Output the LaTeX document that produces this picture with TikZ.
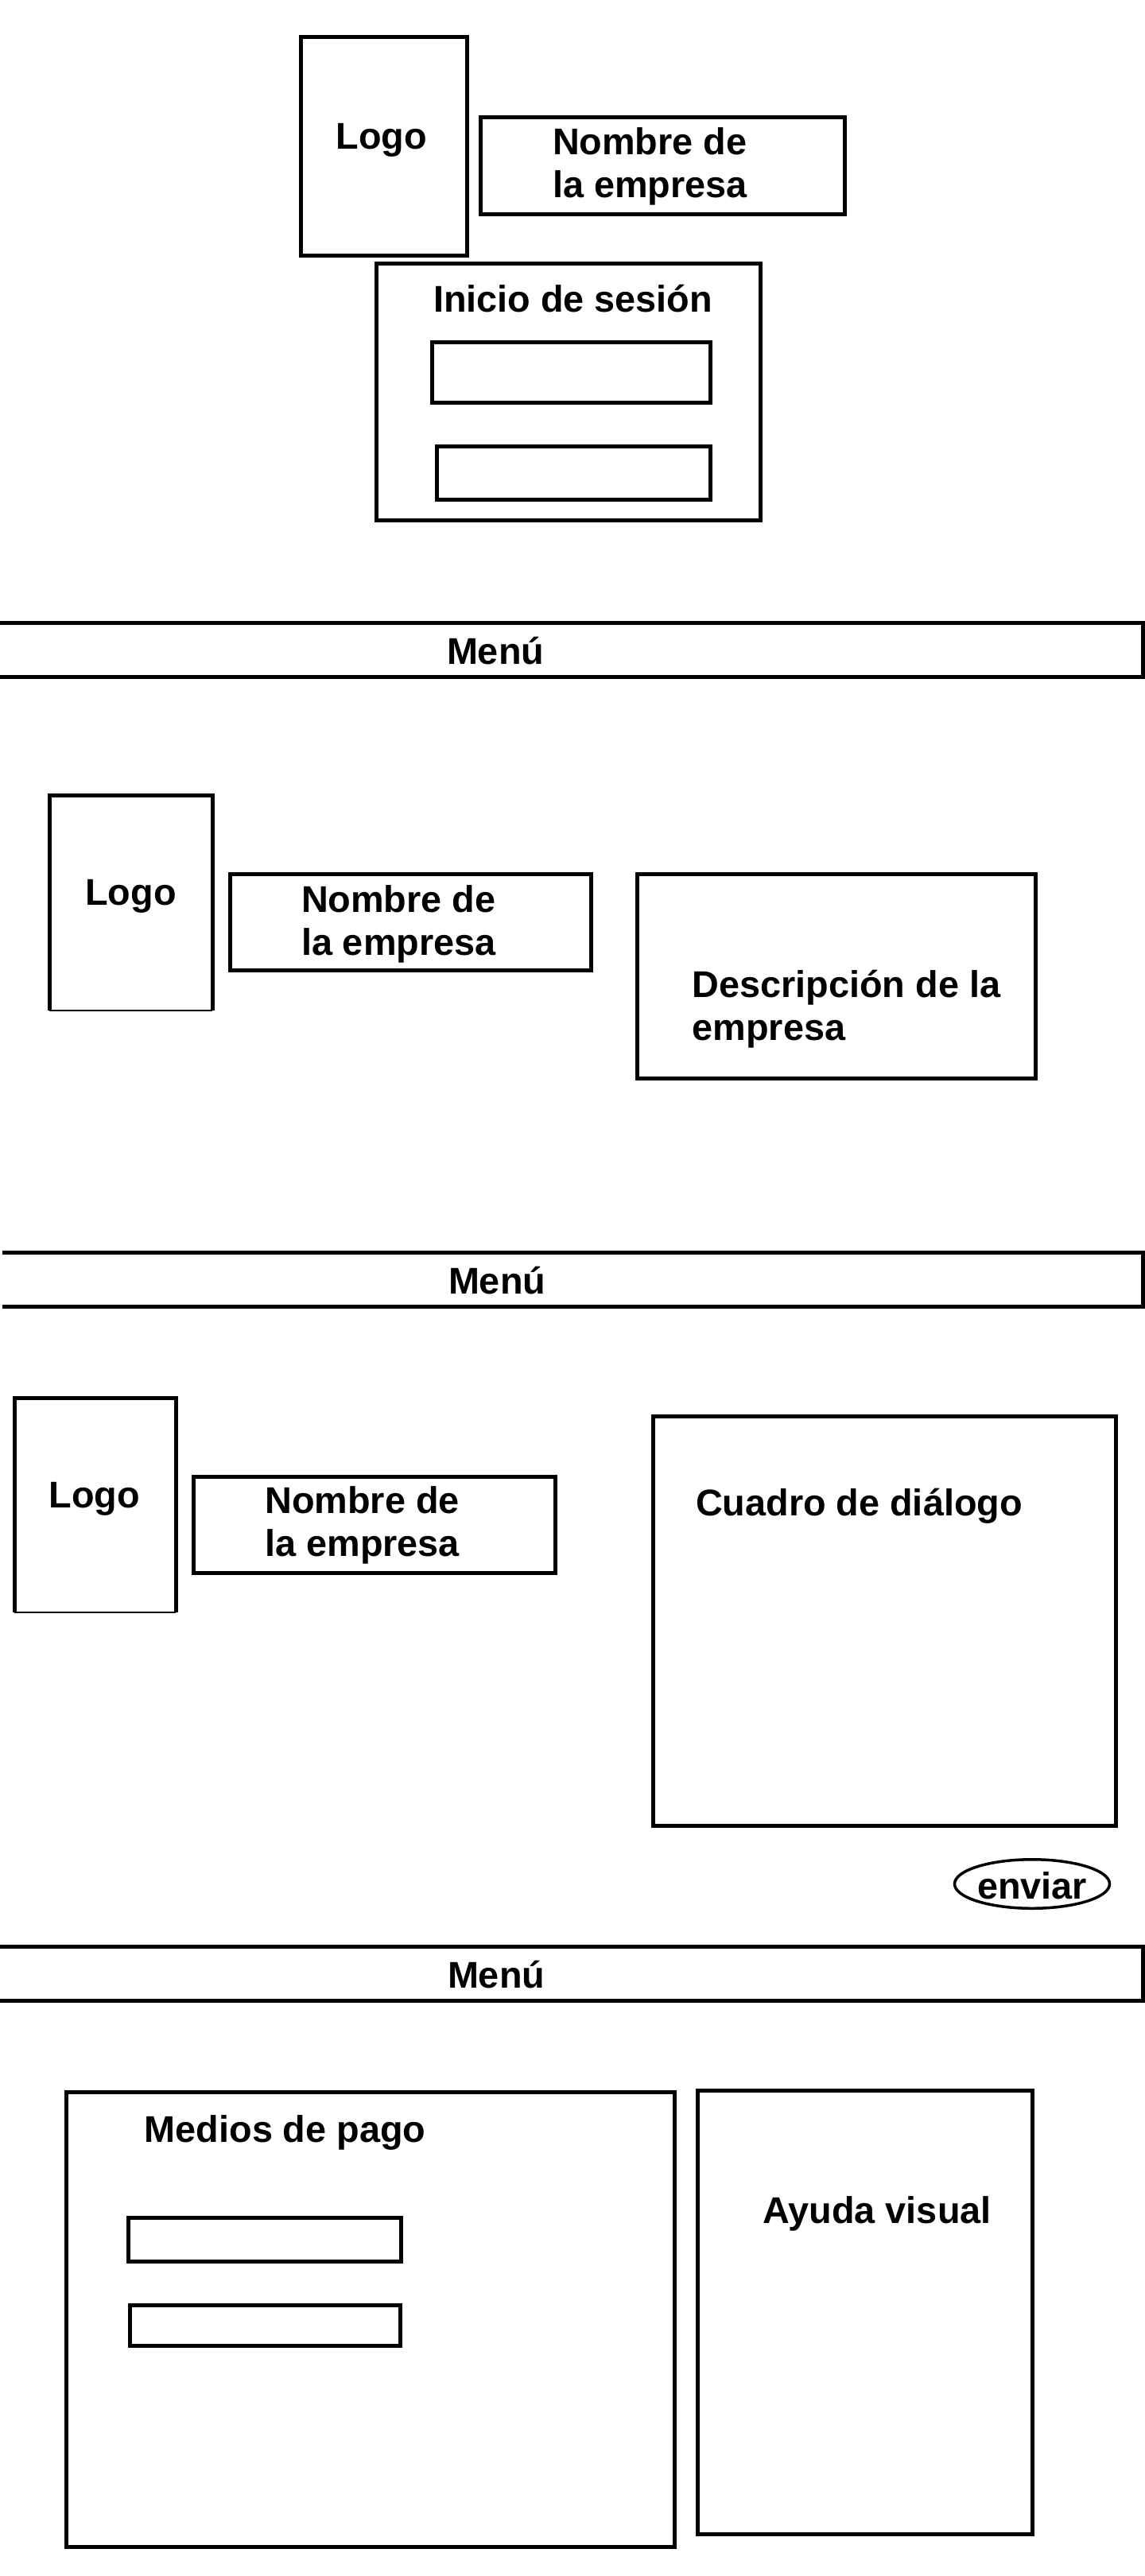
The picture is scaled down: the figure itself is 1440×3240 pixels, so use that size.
\documentclass[tikz,border=0pt]{standalone}
\usepackage{fontspec}
\setmainfont{Liberation Sans}
\usetikzlibrary{shapes.geometric,fit}
\tikzset{
  frame/.style={draw, line width=5pt, inner sep=0pt, outer sep=0pt},
  area/.style={inner sep=0pt, outer sep=0pt},
  side/.style={line width=5pt, line join=miter},
  thinside/.style={line width=2.5pt},
  menuside/.style={line width=5pt, line join=miter},
  lbl/.style={anchor=base west, inner sep=0pt, outer sep=0pt,
    font=\bfseries\fontsize{46.8}{54}\selectfont, align=left},
  btn/.style={draw, ellipse, line width=3.5pt, inner sep=0pt, outer sep=0pt,
    minimum width=179pt, minimum height=61.5pt, text height=37pt, text depth=0pt,
    font=\bfseries\fontsize{46.8}{54}\selectfont},
}
\begin{document}
\begin{tikzpicture}[x=1pt,y=-1pt]
\useasboundingbox (0,0) rectangle (1440,3240);
\fill[white] (0,0) rectangle (1440,3240);

% ---------- screen 1: login ----------
\node[frame, fit={(378,46) (587,321)}] (logoA) {};
\node[lbl] (logoAt) at (422.7,187.5) {Logo};
\node[frame, fit={(604,147) (1062,269)}] (nameA) {};
\node[lbl] (nameAt) at (695,248) {Nombre de\\la empresa};
\node[frame, fit={(473,331) (956,654)}] (loginA) {};
\node[lbl] (loginAt) at (545,392) {Inicio de sesión};
\node[frame, fit={(543,430) (893,506)}] (userA) {};
\node[frame, fit={(549,561) (893,628)}] (passA) {};

% ---------- screen 2: description ----------
\node[area, fit={(0,783.5) (1437.5,851.5)}] (menuB) {};
\draw[menuside] (menuB.north west) -| (menuB.south east) -- (menuB.south west);
\node[lbl] (menuBt) at (562,835) {Menú};
\node[area, fit={(62,1000) (267,1271)}] (logoB) {};
\draw[side] (logoB.south west) |- (logoB.north east) -- (logoB.south east);
\draw[thinside] (logoB.south west) -- (logoB.south east);
\node[lbl] (logoBt) at (107.4,1138.4) {Logo};
\node[frame, fit={(289,1099) (743,1220)}] (nameB) {};
\node[lbl] (nameBt) at (379,1201) {Nombre de\\la empresa};
\node[frame, fit={(801,1099) (1302,1356)}] (descB) {};
\node[lbl] (descBt) at (870.6,1308) {Descripción de la\\empresa};

% ---------- screen 3: contact ----------
\node[area, fit={(3,1575.5) (1437.5,1643.5)}] (menuC) {};
\draw[menuside] (menuC.north west) -| (menuC.south east) -- (menuC.south west);
\node[lbl] (menuCt) at (564,1627.6) {Menú};
\node[area, fit={(18,1758) (221,2028)}] (logoC) {};
\draw[side] (logoC.south west) |- (logoC.north east) -- (logoC.south east);
\draw[thinside] (logoC.south west) -- (logoC.south east);
\node[lbl] (logoCt) at (61.5,1896.6) {Logo};
\node[frame, fit={(243,1857) (698,1978)}] (nameC) {};
\node[lbl] (nameCt) at (333.4,1957) {Nombre de\\la empresa};
\node[frame, fit={(821,1781) (1403,2296)}] (dialogC) {};
\node[lbl] (dialogCt) at (875,1906) {Cuadro de diálogo};
\node[btn] (sendC) at (1298,2369.5) {enviar};

% ---------- screen 4: payment ----------
\node[area, fit={(0,2448.5) (1437.5,2516.5)}] (menuD) {};
\draw[menuside] (menuD.north west) -| (menuD.south east) -- (menuD.south west);
\node[lbl] (menuDt) at (563,2500.2) {Menú};
\node[frame, fit={(83,2631) (848,3203)}] (payD) {};
\node[lbl] (payDt) at (181.8,2694.6) {Medios de pago};
\node[frame, fit={(161,2789) (504,2844)}] (cardD1) {};
\node[frame, fit={(163,2899) (503,2950)}] (cardD2) {};
\node[frame, fit={(877,2629) (1298,3187)}] (helpD) {};
\node[lbl] (helpDt) at (959.7,2796.4) {Ayuda visual};
\end{tikzpicture}
\end{document}
